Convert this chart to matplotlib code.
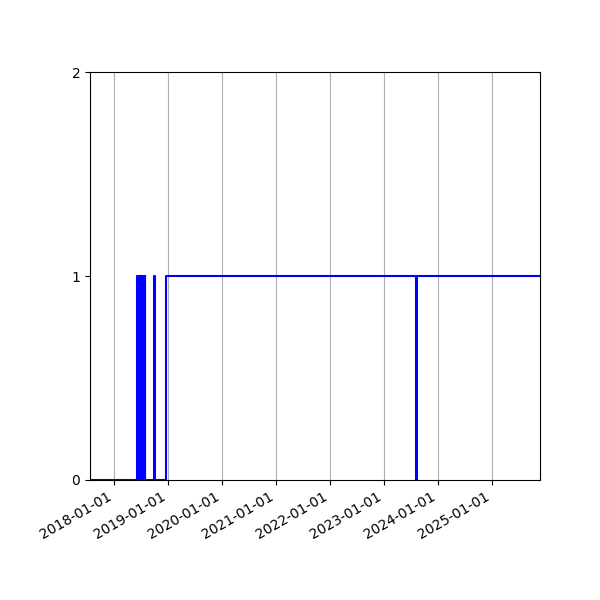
import matplotlib
matplotlib.use("Agg")
import matplotlib.pyplot as plt
import matplotlib.dates as mdates
import pandas as pd

# state changes (date, value), drawn as a post step
dates = [
    "2017-07-21", "2018-06-06", "2018-06-08", "2018-06-13", "2018-06-15",
    "2018-06-18", "2018-06-22", "2018-06-26", "2018-06-30", "2018-07-04",
    "2018-07-08", "2018-07-12", "2018-07-16", "2018-07-20", "2018-07-24",
    "2018-07-28", "2018-07-30", "2018-09-25", "2018-10-03", "2018-12-18",
    "2023-08-11", "2023-08-16", "2025-11-25",
]
values = [
    0, 1, 0, 1, 0,
    1, 0, 1, 0, 1,
    0, 1, 0, 1, 0,
    1, 0, 1, 0, 1,
    0, 1, 1,
]
y_ticks = [0, 1, 2]

x = pd.to_datetime(dates)

fig, ax = plt.subplots(figsize=(6, 6), dpi=100)
ax.step(x, values, where="post", color="b")

ax.set_xlim(x[0], x[-1])
ax.set_ylim(0, 2)
ax.set_yticks(y_ticks)
ax.xaxis.set_major_locator(mdates.YearLocator())
ax.xaxis.set_major_formatter(mdates.DateFormatter("%Y-%m-%d"))
ax.grid(axis="x")
fig.autofmt_xdate()
fig.subplots_adjust(left=0.15, right=0.9, bottom=0.2, top=0.88)

fig.savefig("out.png")
